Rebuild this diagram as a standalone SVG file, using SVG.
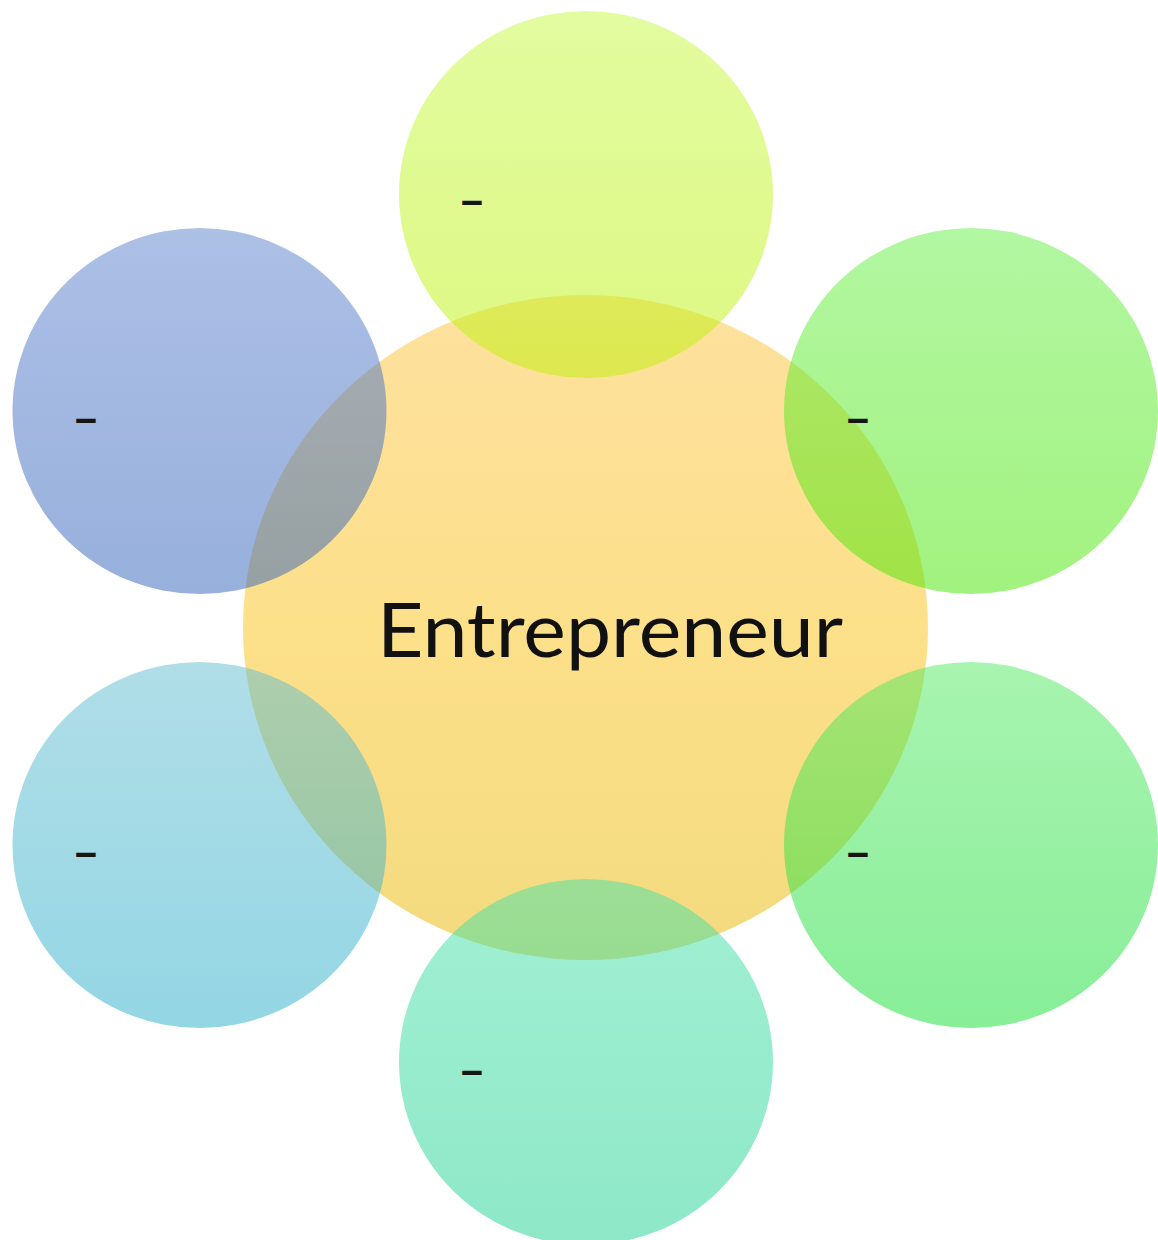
<svg xmlns="http://www.w3.org/2000/svg" width="1158" height="1240" viewBox="0 0 1158 1240">
  <style>
    .sat { fill-opacity: 0.5; }
    .dash { font-family: Lato, "Open Sans", "Liberation Sans", sans-serif; font-size: 48px; font-weight: 700; fill: #151515; }
    .main { font-family: Lato, "Open Sans", "Liberation Sans", sans-serif; font-size: 76px; fill: #111111; }
  </style>
  <defs>
    <linearGradient id="gCenter" x1="0" y1="0" x2="0" y2="1">
      <stop offset="0" stop-color="#FDE19E"/>
      <stop offset="0.5" stop-color="#FDE08A"/>
      <stop offset="1" stop-color="#F3DA7E"/>
    </linearGradient>
    <linearGradient id="gTop" x1="0" y1="0" x2="0" y2="1">
      <stop offset="0" stop-color="#C5F941"/>
      <stop offset="1" stop-color="#BDF105"/>
    </linearGradient>
    <linearGradient id="gTL" x1="0" y1="0" x2="0" y2="1">
      <stop offset="0" stop-color="#5B81CD"/>
      <stop offset="1" stop-color="#2F61B9"/>
    </linearGradient>
    <linearGradient id="gTR" x1="0" y1="0" x2="0" y2="1">
      <stop offset="0" stop-color="#65EF45"/>
      <stop offset="1" stop-color="#45E500"/>
    </linearGradient>
    <linearGradient id="gBR" x1="0" y1="0" x2="0" y2="1">
      <stop offset="0" stop-color="#51E961"/>
      <stop offset="1" stop-color="#11DD31"/>
    </linearGradient>
    <linearGradient id="gB" x1="0" y1="0" x2="0" y2="1">
      <stop offset="0" stop-color="#45E1A9"/>
      <stop offset="1" stop-color="#1DD191"/>
    </linearGradient>
    <linearGradient id="gBL" x1="0" y1="0" x2="0" y2="1">
      <stop offset="0" stop-color="#61BDD1"/>
      <stop offset="1" stop-color="#29ADC9"/>
    </linearGradient>
  </defs>

  <g id="node-center">
    <ellipse cx="585.5" cy="627.5" rx="342.5" ry="332.5" fill="url(#gCenter)"/>
  </g>
  <g id="node-top">
    <ellipse class="sat" cx="586" cy="194.5" rx="187" ry="183.5" fill="url(#gTop)"/>
  </g>
  <g id="node-top-left">
    <ellipse class="sat" cx="199.5" cy="411" rx="187" ry="183" fill="url(#gTL)"/>
  </g>
  <g id="node-top-right">
    <ellipse class="sat" cx="971" cy="411" rx="187" ry="183" fill="url(#gTR)"/>
  </g>
  <g id="node-bottom-right">
    <ellipse class="sat" cx="971" cy="845" rx="187" ry="183" fill="url(#gBR)"/>
  </g>
  <g id="node-bottom">
    <ellipse class="sat" cx="586" cy="1062" rx="187" ry="183" fill="url(#gB)"/>
  </g>
  <g id="node-bottom-left">
    <ellipse class="sat" cx="199.5" cy="845" rx="187" ry="183" fill="url(#gBL)"/>
  </g>

  <g id="labels">
    <text class="main" x="610" y="657" text-anchor="middle" textLength="466" lengthAdjust="spacingAndGlyphs">Entrepreneur</text>
    <text class="dash" x="472" y="217" text-anchor="middle">–</text>
    <text class="dash" x="86" y="435" text-anchor="middle">–</text>
    <text class="dash" x="858" y="435" text-anchor="middle">–</text>
    <text class="dash" x="86" y="869" text-anchor="middle">–</text>
    <text class="dash" x="858" y="869" text-anchor="middle">–</text>
    <text class="dash" x="472" y="1087" text-anchor="middle">–</text>
  </g>
</svg>
